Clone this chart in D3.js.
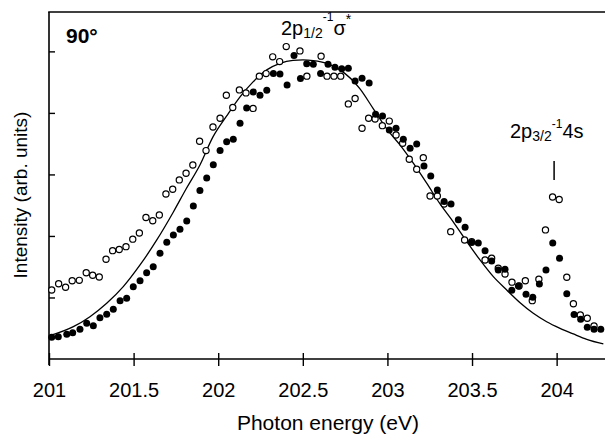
<!DOCTYPE html>
<html>
<head>
<meta charset="utf-8">
<script src="https://cdn.jsdelivr.net/npm/d3@7"></script>
<style>
  html, body { margin: 0; padding: 0; background: #fff; }
  svg { display: block; font-family: "Liberation Sans", Arial, Helvetica, sans-serif; }
</style>
</head>
<body>
<svg id="chart" width="605" height="434"></svg>
<script>
const xTicks = [201, 201.5, 202, 202.5, 203, 203.5, 204];
const yTicks = [1, 2, 3, 4, 5];

// filled circles
const filledEnergy = [201.016, 201.055, 201.105, 201.140, 201.183, 201.223, 201.262, 201.301, 201.341, 201.380,
    201.420, 201.459, 201.498, 201.538, 201.577, 201.616, 201.656, 201.696, 201.735, 201.774,
    201.814, 201.853, 201.892, 201.932, 201.971, 202.011, 202.050, 202.089, 202.129, 202.168,
    202.207, 202.247, 202.287, 202.326, 202.365, 202.407, 202.448, 202.486, 202.523, 202.562,
    202.605, 202.649, 202.690, 202.730, 202.769, 202.809, 202.850, 202.892, 202.930, 202.971,
    203.011, 203.051, 203.094, 203.134, 203.173, 203.216, 203.256, 203.295, 203.335, 203.376,
    203.419, 203.459, 203.498, 203.537, 203.577, 203.616, 203.655, 203.695, 203.735, 203.774,
    203.819, 203.859, 203.898, 203.937, 203.977, 204.017, 204.060, 204.103, 204.142, 204.181,
    204.221, 204.261];
const filledIntensity = [0.353, 0.363, 0.402, 0.428, 0.483, 0.580, 0.541, 0.672, 0.727, 0.808,
    0.948, 0.987, 1.176, 1.273, 1.403, 1.501, 1.719, 1.898, 2.016, 2.109,
    2.244, 2.488, 2.737, 2.943, 3.159, 3.387, 3.533, 3.572, 3.833, 4.081,
    4.341, 4.288, 4.369, 4.639, 4.634, 4.455, 4.935, 4.558, 4.797, 4.792,
    4.639, 4.789, 4.743, 4.719, 4.727, 4.520, 4.564, 4.488, 3.980, 3.951,
    3.724, 3.751, 3.572, 3.426, 3.496, 3.138, 2.976, 2.748, 2.558, 2.520,
    2.265, 2.141, 1.894, 1.886, 1.761, 1.593, 1.447, 1.459, 1.117, 1.187,
    1.052, 1.003, 1.220, 1.447, 1.886, 1.637, 1.062, 0.724, 0.646, 0.515,
    0.483, 0.483];

// open circles
const openEnergy = [201.016, 201.057, 201.098, 201.137, 201.179, 201.220, 201.258, 201.297, 201.337, 201.376,
    201.415, 201.455, 201.495, 201.534, 201.573, 201.613, 201.652, 201.691, 201.731, 201.770,
    201.810, 201.850, 201.890, 201.928, 201.969, 202.011, 202.048, 202.086, 202.125, 202.164,
    202.206, 202.243, 202.283, 202.322, 202.363, 202.402, 202.483, 202.524, 202.608, 202.643,
    202.684, 202.724, 202.769, 202.809, 202.850, 202.889, 202.927, 202.970, 203.011, 203.051,
    203.090, 203.129, 203.173, 203.212, 203.252, 203.295, 203.335, 203.374, 203.456, 203.498,
    203.577, 203.616, 203.655, 203.695, 203.736, 203.778, 203.815, 203.856, 203.895, 203.934,
    203.976, 204.015, 204.060, 204.099, 204.140, 204.181, 204.221];
const openIntensity = [1.122, 1.223, 1.166, 1.273, 1.278, 1.403, 1.361, 1.333, 1.621, 1.761,
    1.779, 1.826, 1.948, 2.049, 2.301, 2.247, 2.341, 2.683, 2.759, 2.911,
    3.020, 3.154, 3.540, 3.387, 3.772, 3.914, 4.288, 4.089, 4.374, 4.325,
    4.073, 4.597, 4.639, 4.911, 4.834, 5.078, 5.008, 4.597, 4.922, 4.597,
    4.597, 4.597, 4.146, 4.233, 3.751, 3.914, 3.902, 3.793, 3.867, 3.642,
    3.507, 3.247, 3.085, 3.273, 2.650, 2.650, 2.520, 2.070, 1.935, 1.907,
    1.610, 1.637, 1.475, 1.382, 1.249, 1.187, 1.273, 0.948, 1.298, 2.098,
    2.634, 2.593, 1.328, 0.899, 0.715, 0.662, 0.537];

// fitted curve
const fitEnergy = [201.000, 201.144, 201.242, 201.341, 201.439, 201.538, 201.637, 201.735, 201.810, 201.892,
    201.969, 202.050, 202.129, 202.206, 202.287, 202.365, 202.442, 202.501, 202.562, 202.641,
    202.720, 202.838, 202.917, 202.996, 203.074, 203.153, 203.232, 203.311, 203.389, 203.469,
    203.547, 203.626, 203.705, 203.784, 203.862, 203.941, 204.020, 204.099, 204.178, 204.276];
const fitIntensity = [0.374, 0.525, 0.688, 0.906, 1.176, 1.528, 1.935, 2.390, 2.764, 3.154,
    3.610, 3.951, 4.260, 4.504, 4.699, 4.805, 4.854, 4.862, 4.850, 4.805,
    4.699, 4.390, 4.065, 3.740, 3.480, 3.182, 2.857, 2.520, 2.228, 1.907,
    1.610, 1.338, 1.122, 0.915, 0.743, 0.606, 0.499, 0.407, 0.320, 0.244];

const svg = d3.select("#chart");
const font = '"Liberation Sans", Arial, Helvetica, sans-serif';

const x = d3.scaleLinear().domain([201, 204.3]).range([49, 607.4]);
const y = d3.scaleLinear().domain([0, 5.64]).range([359, 12]);

svg.append("rect").attr("width", 605).attr("height", 434).attr("fill", "#fff");

// frame: left and top lines
svg.append("line")
    .attr("x1", x(201)).attr("x2", x(201))
    .attr("y1", y(5.64)).attr("y2", y(0) + 6)
    .attr("stroke", "#000").attr("stroke-width", 1.6);
svg.append("line")
    .attr("x1", x(201) - 0.8).attr("x2", 605)
    .attr("y1", y(5.64)).attr("y2", y(5.64))
    .attr("stroke", "#000").attr("stroke-width", 1.6);

// x axis
const xAxis = svg.append("g")
    .attr("transform", `translate(0,${y(0)})`)
    .call(d3.axisBottom(x).tickValues(xTicks).tickSize(7).tickFormat(d => d));
xAxis.select(".domain").remove();
xAxis.append("line")
    .attr("x1", x(201)).attr("x2", 605)
    .attr("stroke", "#000").attr("stroke-width", 1.6);
xAxis.selectAll(".tick line").attr("y1", -6).attr("y2", 7).attr("stroke-width", 1.4);
xAxis.selectAll(".tick text")
    .attr("y", 24)
    .attr("fill", "#000")
    .style("font-family", font)
    .style("font-size", "20px");

// y axis (unlabelled, inward ticks)
const yAxis = svg.append("g")
    .attr("transform", `translate(${x(201)},0)`)
    .call(d3.axisLeft(y).tickValues(yTicks).tickSize(-6).tickFormat(""));
yAxis.select(".domain").remove();
yAxis.selectAll(".tick line").attr("stroke-width", 1.4);

// fit curve
const fitData = fitEnergy.map((e, i) => [e, fitIntensity[i]]);
svg.append("path")
    .datum(fitData)
    .attr("fill", "none")
    .attr("stroke", "#000")
    .attr("stroke-width", 1.3)
    .attr("d", d3.line().x(d => x(d[0])).y(d => y(d[1])).curve(d3.curveMonotoneX));

// open circles
const openData = openEnergy.map((e, i) => [e, openIntensity[i]]);
svg.append("g").selectAll("circle")
    .data(openData)
    .enter().append("circle")
    .attr("cx", d => x(d[0]))
    .attr("cy", d => y(d[1]))
    .attr("r", 3.1)
    .attr("fill", "#fff")
    .attr("stroke", "#000")
    .attr("stroke-width", 1.2);

// filled circles
const filledData = filledEnergy.map((e, i) => [e, filledIntensity[i]]);
svg.append("g").selectAll("circle")
    .data(filledData)
    .enter().append("circle")
    .attr("cx", d => x(d[0]))
    .attr("cy", d => y(d[1]))
    .attr("r", 3.5)
    .attr("fill", "#000");

// axis titles
svg.append("text")
    .attr("x", 328).attr("y", 430)
    .attr("text-anchor", "middle")
    .style("font-size", "21px")
    .text("Photon energy (eV)");

svg.append("text")
    .attr("transform", "translate(27,195) rotate(-90)")
    .attr("text-anchor", "middle")
    .style("font-size", "19px")
    .text("Intensity (arb. units)");

// panel label
svg.append("text")
    .attr("x", 66).attr("y", 43)
    .style("font-size", "21px")
    .style("font-weight", "bold")
    .text("90°");

// peak labels
const lab1 = svg.append("text").attr("x", 281).attr("y", 35).style("font-size", "20px");
lab1.append("tspan").text("2p");
lab1.append("tspan").attr("dy", 3).style("font-size", "14px").text("1/2");
lab1.append("tspan").attr("dy", -17).style("font-size", "12px").text("-1");
lab1.append("tspan").attr("dy", 14).text("σ");
lab1.append("tspan").attr("dy", -11).style("font-size", "14px").text("*");

const lab2 = svg.append("text").attr("x", 510).attr("y", 138).style("font-size", "20px");
lab2.append("tspan").text("2p");
lab2.append("tspan").attr("dy", 3).style("font-size", "14px").text("3/2");
lab2.append("tspan").attr("dy", -13).style("font-size", "12px").text("-1");
lab2.append("tspan").attr("dy", 10).text("4s");

svg.append("line")
    .attr("x1", x(203.985)).attr("x2", x(203.985))
    .attr("y1", 161).attr("y2", 180)
    .attr("stroke", "#000").attr("stroke-width", 1.5);
</script>
</body>
</html>
